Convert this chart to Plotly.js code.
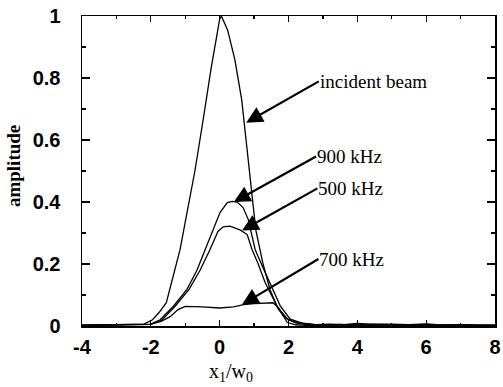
<!DOCTYPE html>
<html>
<head>
<meta charset="utf-8">
<script src="https://cdn.plot.ly/plotly-3.0.1.min.js"></script>
<style>html,body{margin:0;padding:0;background:#fff}#chart{width:503px;height:387px}</style>
</head>
<body>
<div id="chart"></div>
<script>
// Incident beam
const xIncident = [-4, -3, -2.5, -2.2, -1.95, -1.75, -1.55, -1.36, -1.15, -0.95, -0.72, -0.48, -0.25, 0, 0.05, 0.23, 0.44, 0.64, 0.81, 0.93, 1.05, 1.25, 1.46, 1.7, 1.9, 2.2, 2.6, 3, 3.5, 4, 5, 6, 7, 8];
const yIncident = [0.003, 0.004, 0.004, 0.006, 0.02, 0.045, 0.075, 0.16, 0.247, 0.365, 0.5, 0.665, 0.83, 0.99, 1.0, 0.955, 0.86, 0.73, 0.56, 0.43, 0.31, 0.205, 0.118, 0.055, 0.027, 0.01, 0.004, 0.003, 0.004, 0.003, 0.003, 0.002, 0.003, 0.002];
// 900 kHz
const x900 = [-4, -3, -2.5, -2.0, -1.73, -1.35, -0.95, -0.66, -0.42, -0.2, 0.01, 0.22, 0.36, 0.51, 0.68, 0.83, 0.94, 1.03, 1.25, 1.47, 1.76, 2.05, 2.4, 2.8, 3.2, 3.6, 4, 4.5, 5, 5.5, 6, 6.5, 7, 7.5, 8];
const y900 = [0.002, 0.003, 0.004, 0.006, 0.02, 0.063, 0.118, 0.18, 0.247, 0.306, 0.366, 0.398, 0.402, 0.4, 0.382, 0.344, 0.289, 0.247, 0.19, 0.135, 0.065, 0.022, 0.009, 0.004, 0.006, 0.004, 0.008, 0.005, 0.006, 0.004, 0.007, 0.003, 0.004, 0.002, 0.003];
// 500 kHz
const x500 = [-4, -3, -2.4, -2.0, -1.67, -1.3, -0.89, -0.57, -0.28, -0.05, 0.1, 0.3, 0.59, 0.8, 0.94, 1.12, 1.32, 1.67, 1.99, 2.3, 2.7, 3.1, 3.5, 4, 4.5, 5, 5.5, 6, 6.5, 7, 7.5, 8];
const y500 = [0.002, 0.003, 0.004, 0.005, 0.02, 0.063, 0.118, 0.18, 0.247, 0.305, 0.32, 0.322, 0.31, 0.295, 0.247, 0.2, 0.14, 0.063, 0.02, 0.01, 0.005, 0.003, 0.005, 0.003, 0.006, 0.004, 0.003, 0.005, 0.003, 0.004, 0.002, 0.002];
// 700 kHz
const x700 = [-4, -3, -2.4, -2.02, -1.7, -1.44, -1.21, -1.0, -0.5, 0, 0.4, 0.7, 1.0, 1.3, 1.55, 1.7, 1.85, 1.96, 2.2, 2.5, 3, 4, 5, 6, 7, 8];
const y700 = [0.002, 0.003, 0.003, 0.005, 0.015, 0.03, 0.053, 0.063, 0.062, 0.058, 0.062, 0.069, 0.072, 0.073, 0.075, 0.06, 0.03, 0.012, 0.004, 0.002, 0.003, 0.003, 0.004, 0.003, 0.002, 0.002];

// Tick labels
const xTickVals = [-4, -2, 0, 2, 4, 6, 8];
const xTickText = ["-4", "-2", "0", "2", "4", "6", "8"];
const yTickVals = [0, 0.2, 0.4, 0.6, 0.8, 1];
const yTickText = ["0", "0.2", "0.4", "0.6", "0.8", "1"];

// Curve labels: label left-middle anchor (arrow tail) and arrow tip
const labelNames = ["incident beam", "900 kHz", "500 kHz", "700 kHz"];
const labelX = [2.88, 2.80, 2.84, 2.87];
const labelY = [0.789, 0.547, 0.444, 0.216];
const arrowTipX = [0.77, 0.41, 0.65, 0.65];
const arrowTipY = [0.656, 0.400, 0.308, 0.069];

const lineStyle = {color: '#000', width: 1.3};
const traces = [
  {x: xIncident, y: yIncident, name: 'incident beam'},
  {x: x900, y: y900, name: '900 kHz'},
  {x: x500, y: y500, name: '500 kHz'},
  {x: x700, y: y700, name: '700 kHz'}
].map(t => Object.assign(t, {type: 'scatter', mode: 'lines', line: lineStyle, hoverinfo: 'skip'}));

const annotations = labelNames.map((name, i) => ({
  xref: 'x', yref: 'y', x: arrowTipX[i], y: arrowTipY[i],
  axref: 'x', ayref: 'y', ax: labelX[i], ay: labelY[i],
  text: name, showarrow: true, arrowhead: 2, arrowsize: 1.5, arrowwidth: 2.2, arrowcolor: '#000',
  xanchor: 'left', yanchor: 'middle', borderpad: 0,
  font: {family: 'Liberation Serif', size: 19, color: '#000'}
}));
annotations.push({
  xref: 'paper', yref: 'paper', x: -0.167, y: 0.516, textangle: -90,
  text: 'amplitude', showarrow: false, xanchor: 'center', yanchor: 'middle',
  font: {family: 'Liberation Serif', size: 19, color: '#000', weight: 'bold'}
});
annotations.push({
  xref: 'paper', yref: 'paper', x: 0.36, y: -0.15,
  text: 'x<sub>1</sub>/w<sub>0</sub>', showarrow: false, xanchor: 'center', yanchor: 'middle',
  font: {family: 'Liberation Serif', size: 20, color: '#000'}
});

const tickFont = {family: 'Liberation Sans', size: 20, color: '#000', weight: 'bold'};
const layout = {
  width: 503, height: 387,
  margin: {l: 82, r: 8, t: 16, b: 61},
  paper_bgcolor: '#fff', plot_bgcolor: '#fff',
  showlegend: false,
  xaxis: {
    range: [-4, 8], tickmode: 'array', tickvals: xTickVals, ticktext: xTickText,
    ticks: 'inside', ticklen: 6, tickwidth: 1.2, tickcolor: '#000',
    minor: {tickmode: 'linear', tick0: -4, dtick: 1, ticks: 'inside', ticklen: 3, tickcolor: '#000'},
    showline: true, linecolor: '#000', linewidth: 1.5, mirror: 'ticks',
    showgrid: false, zeroline: false, tickfont: tickFont, ticklabelstandoff: 2
  },
  yaxis: {
    range: [0, 1], tickmode: 'array', tickvals: yTickVals, ticktext: yTickText,
    ticks: 'inside', ticklen: 8, tickwidth: 1.2, tickcolor: '#000',
    minor: {tickmode: 'linear', tick0: 0, dtick: 0.1, ticks: 'inside', ticklen: 4, tickcolor: '#000'},
    showline: true, linecolor: '#000', linewidth: 1.5, mirror: 'ticks',
    showgrid: false, zeroline: false, tickfont: tickFont, ticklabelstandoff: 16
  },
  annotations: annotations
};
Plotly.newPlot('chart', traces, layout, {staticPlot: true, displayModeBar: false});
</script>
</body>
</html>
